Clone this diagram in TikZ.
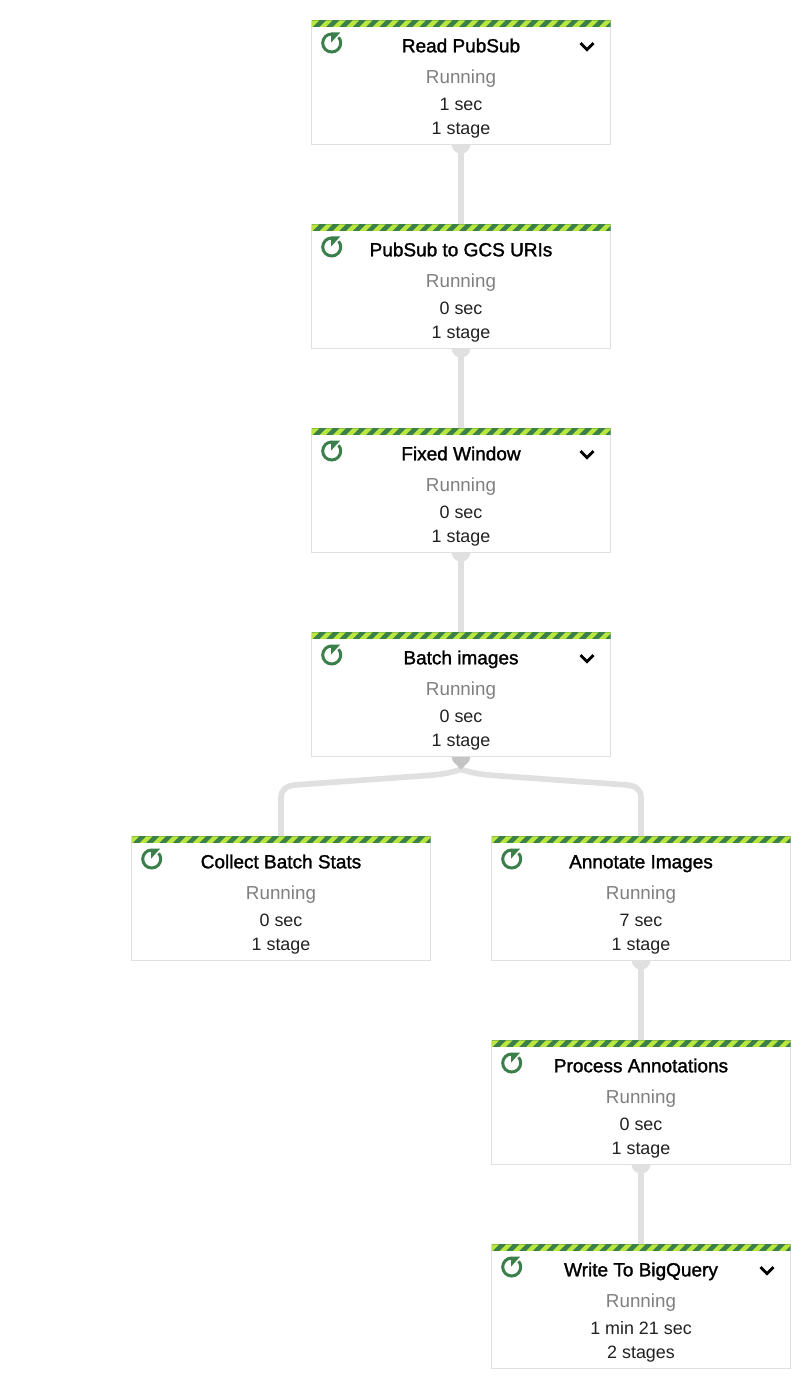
\documentclass[tikz,border=0pt]{standalone}
\usepackage{fontspec}
\setmainfont{Liberation Sans}
\newfontfamily\titlefont[FakeBold=1.5]{Liberation Sans}
\usetikzlibrary{positioning,backgrounds}
\definecolor{stripedark}{HTML}{3B7F4A}
\definecolor{stripelight}{HTML}{B9E63F}
\definecolor{edgegray}{HTML}{E0E0E0}
\definecolor{portgray}{HTML}{C4C4C4}
\definecolor{runninggray}{HTML}{808080}
\definecolor{countgray}{HTML}{212121}
\newcommand{\stagetext}[4]{{\titlefont\fontsize{19}{26}\selectfont #1}\\[5pt]{\fontsize{18.8}{26}\selectfont\color{runninggray}#2}\\[1pt]{\fontsize{17.9}{26}\selectfont\color{countgray}#3}\\[-2pt]{\fontsize{17.9}{26}\selectfont\color{countgray}#4}}

\begin{document}
\begin{tikzpicture}[
    x=1pt, y=1pt,
    node distance=80pt,
    stagebox/.style={rectangle, draw=edgegray, line width=1pt, fill=white, minimum width=299pt, minimum height=124pt, inner sep=0pt, outer sep=0pt, align=center, font=\fontsize{18}{26}\selectfont, text height=114pt, text depth=10pt},
    link/.style={draw=edgegray, line width=6pt},
    forklink/.style={draw=edgegray, line width=5.7pt},
    port/.style={fill=edgegray}
]
\useasboundingbox (0,0) rectangle (810,-1388);

\node (read) [stagebox] at (461,-82.3) {\stagetext{Read PubSub}{Running}{1 sec}{1 stage}};
\node (gcs) [stagebox, below=of read] {\stagetext{PubSub to GCS URIs}{Running}{0 sec}{1 stage}};
\node (window) [stagebox, below=of gcs] {\stagetext{Fixed Window}{Running}{0 sec}{1 stage}};
\node (batch) [stagebox, below=of window] {\stagetext{Batch images}{Running}{0 sec}{1 stage}};
\node (stats) [stagebox, below=of batch, xshift=-180pt] {\stagetext{Collect Batch Stats}{Running}{0 sec}{1 stage}};
\node (annotate) [stagebox, below=of batch, xshift=180pt] {\stagetext{Annotate Images}{Running}{7 sec}{1 stage}};
\node (process) [stagebox, below=of annotate] {\stagetext{Process Annotations}{Running}{0 sec}{1 stage}};
\node (write) [stagebox, below=of process] {\stagetext{Write To BigQuery}{Running}{1 min 21 sec}{2 stages}};

% Top stripes and status icons
\foreach \n in {read,gcs,window,batch,stats,annotate,process,write} {
    \begin{scope}
        \clip (\n.north west) rectangle ++(299,-6.5);
        \fill[stripedark] (\n.north west) rectangle ++(299,-6.5);
        \foreach \i in {-1,...,23}
            \fill[stripelight] ([xshift=\i*13.3pt]\n.north west) ++(8.2,-6.5) -- ++(6.5,6.5) -- ++(6.4,0) -- ++(-6.5,-6.5) -- cycle;
    \end{scope}
    \begin{scope}[shift={([xshift=20.2pt,yshift=-22.7pt]\n.north west)}]
        \draw[stripedark, line width=3pt] (90:9) arc[start angle=90, end angle=400, radius=9];
        \fill[stripedark] (-0.5,0.5) -- (-0.5,10.5) -- (8.5,10.5) -- cycle;
    \end{scope}
}

% Chevrons
\foreach \n in {read,window,batch,write} {
    \draw[black, line width=2.8pt] ([xshift=269pt,yshift=-22.8pt]\n.north west) -- ++(6.5,-6.5) -- ++(6.5,6.5);
}

% Connectors
\begin{scope}[on background layer]
    \foreach \a/\b in {read/gcs,gcs/window,window/batch,annotate/process,process/write} {
        \fill[port] (\a.south) circle[radius=9.3];
        \draw[link] (\a) -- (\b);
    }
    \coordinate (fork) at ([yshift=-13pt]batch.south);
    \draw[forklink] (fork) .. controls +(-7,-2.5) and +(14,1) .. ++(-31,-6) -- ++(-133,-9.5) .. controls +(-10,-0.7) and +(0,9) .. ++(-16,-13) -- (stats.north);
    \draw[forklink] (fork) .. controls +(7,-2.5) and +(-14,1) .. ++(31,-6) -- ++(133,-9.5) .. controls +(10,-0.7) and +(0,9) .. ++(16,-13) -- (annotate.north);
    \fill[portgray] (batch.south) circle[radius=9.3];
    \fill[portgray] ([xshift=-8.5pt,yshift=-4pt]batch.south) -- ([yshift=-13.5pt]batch.south) -- ([xshift=8.5pt,yshift=-4pt]batch.south) -- cycle;
\end{scope}
\end{tikzpicture}
\end{document}
